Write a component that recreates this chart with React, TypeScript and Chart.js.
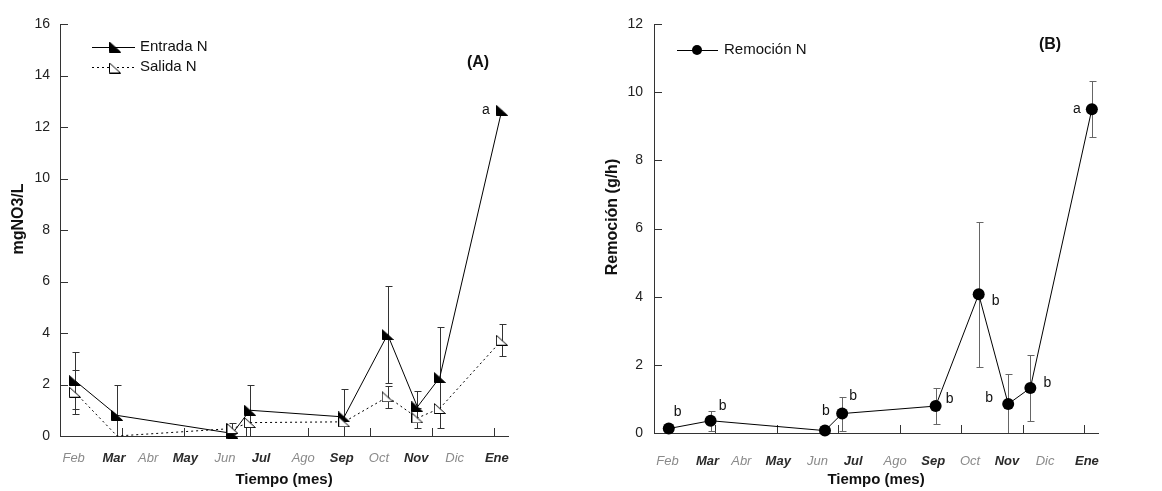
import React, { useEffect, useRef } from "react";
import { Chart, registerables } from "chart.js";
Chart.register(...registerables);

// ---------- data ----------
const MONTHS = ["Feb", "Mar", "Abr", "May", "Jun", "Jul", "Ago", "Sep", "Oct", "Nov", "Dic", "Ene"];
const MONTH_DAYS = [11, 43.5, 71, 101, 133, 162, 196, 227, 257, 287, 318, 352];
const MONTH_BOLD = [false, true, false, true, false, true, false, true, false, true, false, true];
const DAY_TICKS = [50, 100, 150, 200, 250, 300, 350];
const SAMPLE_DAYS = [12, 46, 139, 153, 229, 264, 288, 306, 356];

const ENTRADA = [2.15, 0.8, 0.1, 1.0, 0.74, 3.94, 1.13, 2.27, 12.65];
const ENTRADA_ERR = [1.1, 1.17, 0, 1.0, 1.1, 1.9, 0.6, 1.95, 0];
const ENTRADA_LETTERS = ["", "", "", "", "", "", "", "", "a"];
const SALIDA = [1.7, 0, 0.29, 0.52, 0.55, 1.52, 0.7, 1.07, 3.72];
const SALIDA_ERR = [0.85, 0, 0.2, 0, 0, 0.43, 0.4, 0, 0.62];
const SALIDA_MARKER_SHOWN = [true, false, true, true, true, true, true, true, true];

const REMOCION = [0.13, 0.36, 0.07, 0.57, 0.79, 4.07, 0.85, 1.32, 9.5];
const REMOCION_ERR = [0, 0.3, 0, 0.5, 0.52, 2.12, 0.88, 0.98, 0.83];
const REMOCION_LETTERS = ["b", "b", "b", "b", "b", "b", "b", "b", "a"];

const Y_TICKS_A = { min: 0, max: 16, step: 2 };
const Y_TICKS_B = { min: 0, max: 12, step: 2 };

// ---------- layout / style ----------
const FONT = '"Liberation Sans", Arial, Helvetica, sans-serif';
const AXIS = "#333";
const H = 491;
const LETTER_OFFSETS_A = [[0, 0], [0, 0], [0, 0], [0, 0], [0, 0], [0, 0], [0, 0], [0, 0], [-16, 0]];
const LETTER_OFFSETS_B = [[9, -16], [12, -15], [1, -19], [11, -17], [14, -7], [17, 7], [-19, -6], [17, -5], [-15, 0]];

function triMarker(filled: boolean) {
  const c = document.createElement("canvas");
  c.width = 12;
  c.height = 11;
  const g = c.getContext("2d")!;
  g.beginPath();
  g.moveTo(0.5, 0.5);
  g.lineTo(0.5, 10.5);
  g.lineTo(11.5, 10.5);
  g.closePath();
  g.fillStyle = filled ? "#000" : "#fff";
  g.fill();
  g.strokeStyle = "#000";
  g.lineWidth = 1;
  g.stroke();
  return c;
}

function xScale(height: number, labelPad: number, titlePad: number) {
  return {
    type: "linear",
    min: 0,
    max: 361,
    afterBuildTicks: (s: any) => {
      s.ticks = MONTH_DAYS.map((v) => ({ value: v }));
    },
    afterFit: (s: any) => {
      s.height = height;
    },
    grid: { display: true, drawOnChartArea: false, drawTicks: false },
    border: { display: true, color: AXIS, width: 1 },
    ticks: {
      autoSkip: false,
      maxRotation: 0,
      padding: labelPad,
      callback: (_v: any, i: number) => MONTHS[i],
      color: (ctx: any) => (MONTH_BOLD[ctx.index] ? "#2a2a2a" : "#8a8a8a"),
      font: (ctx: any) => ({
        family: FONT,
        size: 13,
        style: "italic",
        weight: MONTH_BOLD[ctx.index] ? "bold" : "normal",
      }),
    },
    title: {
      display: true,
      text: "Tiempo (mes)",
      color: "#111",
      font: { family: FONT, size: 15, weight: "bold" },
      padding: { top: 0, bottom: titlePad },
    },
  };
}

function yScale(range: { min: number; max: number; step: number }, width: number, pad: number) {
  return {
    type: "linear",
    min: range.min,
    max: range.max,
    afterFit: (s: any) => {
      s.width = width;
    },
    grid: { display: true, drawOnChartArea: false, drawTicks: false },
    border: { display: true, color: AXIS, width: 1 },
    ticks: { stepSize: range.step, padding: pad, color: "#222", font: { family: FONT, size: 14 } },
  };
}

type ErrSpec = { values: number[]; errs: number[]; color: string };

function decorPlugin(cfg: {
  errors: ErrSpec[];
  letters: { values: number[]; letters: string[]; offsets: number[][] }[];
  yTitle: { text: string; x: number; y: number };
  panel: { text: string; x: number; y: number };
  legend: (ctx: CanvasRenderingContext2D) => void;
}) {
  return {
    id: "decor",
    beforeDatasetsDraw(chart: any) {
      const { ctx, chartArea } = chart;
      const xs = chart.scales.x;
      const ys = chart.scales.y;
      ctx.save();
      ctx.strokeStyle = AXIS;
      ctx.lineWidth = 1;
      ctx.beginPath();
      for (const d of DAY_TICKS) {
        const px = Math.round(xs.getPixelForValue(d)) + 0.5;
        ctx.moveTo(px, chartArea.bottom);
        ctx.lineTo(px, chartArea.bottom - 8);
      }
      for (const t of ys.ticks) {
        const py = Math.round(ys.getPixelForValue(t.value)) + 0.5;
        ctx.moveTo(chartArea.left, py);
        ctx.lineTo(chartArea.left + 8, py);
      }
      ctx.stroke();
      ctx.beginPath();
      ctx.rect(chartArea.left, chartArea.top - 10, chartArea.width + 10, chartArea.height + 10);
      ctx.clip();
      for (const e of cfg.errors) {
        ctx.strokeStyle = e.color;
        ctx.beginPath();
        e.values.forEach((v, i) => {
          const err = e.errs[i];
          if (!err) return;
          const px = Math.round(xs.getPixelForValue(SAMPLE_DAYS[i])) + 0.5;
          const top = Math.round(ys.getPixelForValue(v + err)) + 0.5;
          const bot = Math.round(ys.getPixelForValue(v - err)) + 0.5;
          ctx.moveTo(px, top);
          ctx.lineTo(px, bot);
          ctx.moveTo(px - 3, top);
          ctx.lineTo(px + 4, top);
          ctx.moveTo(px - 3, bot);
          ctx.lineTo(px + 4, bot);
        });
        ctx.stroke();
      }
      ctx.restore();
    },
    afterDatasetsDraw(chart: any) {
      const { ctx } = chart;
      const xs = chart.scales.x;
      const ys = chart.scales.y;
      ctx.save();
      ctx.fillStyle = "#111";
      ctx.font = `14px ${FONT}`;
      ctx.textAlign = "center";
      ctx.textBaseline = "middle";
      for (const l of cfg.letters) {
        l.letters.forEach((t, i) => {
          if (!t) return;
          const px = xs.getPixelForValue(SAMPLE_DAYS[i]) + l.offsets[i][0];
          const py = ys.getPixelForValue(l.values[i]) + l.offsets[i][1];
          ctx.fillText(t, px, py);
        });
      }
      ctx.font = `bold 16px ${FONT}`;
      ctx.fillText(cfg.panel.text, cfg.panel.x, cfg.panel.y);
      ctx.save();
      ctx.translate(cfg.yTitle.x, cfg.yTitle.y);
      ctx.rotate(-Math.PI / 2);
      ctx.font = `bold 16px ${FONT}`;
      ctx.fillText(cfg.yTitle.text, 0, 0);
      ctx.restore();
      cfg.legend(ctx);
      ctx.restore();
    },
  };
}

function buildA(canvas: HTMLCanvasElement) {
  const filled = triMarker(true);
  const open = triMarker(false);
  const legend = (ctx: CanvasRenderingContext2D) => {
    ctx.strokeStyle = "#000";
    ctx.lineWidth = 1;
    ctx.beginPath();
    ctx.moveTo(92, 47.5);
    ctx.lineTo(135, 47.5);
    ctx.stroke();
    ctx.drawImage(filled, 115 - 6, 47 - 5.5);
    ctx.setLineDash([2, 3]);
    ctx.beginPath();
    ctx.moveTo(92, 67.5);
    ctx.lineTo(135, 67.5);
    ctx.stroke();
    ctx.setLineDash([]);
    ctx.drawImage(open, 115 - 6, 68 - 5.5);
    ctx.fillStyle = "#111";
    ctx.font = `15px ${FONT}`;
    ctx.textAlign = "left";
    ctx.textBaseline = "middle";
    ctx.fillText("Entrada N", 140, 47);
    ctx.fillText("Salida N", 140, 67);
  };
  return new Chart(canvas, {
    type: "line",
    data: {
      datasets: [
        {
          label: "Salida N",
          data: SAMPLE_DAYS.map((d, i) => ({ x: d, y: SALIDA[i] })),
          borderColor: "#000",
          borderWidth: 1,
          borderDash: [2, 3],
          pointStyle: open as any,
          pointRadius: (c: any) => (SALIDA_MARKER_SHOWN[c.dataIndex] ? 3 : 0),
          backgroundColor: "#fff",
          clip: false as any,
        },
        {
          label: "Entrada N",
          data: SAMPLE_DAYS.map((d, i) => ({ x: d, y: ENTRADA[i] })),
          borderColor: "#000",
          borderWidth: 1,
          pointStyle: filled as any,
          backgroundColor: "#000",
          clip: false as any,
        },
      ],
    },
    options: {
      responsive: false,
      animation: false,
      layout: { padding: { left: 0, top: 24, right: 72, bottom: 0 } },
      plugins: { legend: { display: false }, tooltip: { enabled: false } },
      scales: { x: xScale(H - 436, 15, 2) as any, y: yScale(Y_TICKS_A, 60, 10) as any },
    },
    plugins: [
      decorPlugin({
        errors: [
          { values: SALIDA, errs: SALIDA_ERR, color: "#333" },
          { values: ENTRADA, errs: ENTRADA_ERR, color: "#333" },
        ],
        letters: [{ values: ENTRADA, letters: ENTRADA_LETTERS, offsets: LETTER_OFFSETS_A }],
        yTitle: { text: "mgNO3/L", x: 19, y: 219 },
        panel: { text: "(A)", x: 478, y: 63 },
        legend,
      }) as any,
    ],
  } as any);
}

function buildB(canvas: HTMLCanvasElement) {
  const legend = (ctx: CanvasRenderingContext2D) => {
    ctx.strokeStyle = "#000";
    ctx.lineWidth = 1;
    ctx.beginPath();
    ctx.moveTo(97, 50.5);
    ctx.lineTo(138, 50.5);
    ctx.stroke();
    ctx.fillStyle = "#000";
    ctx.beginPath();
    ctx.arc(117, 50, 5, 0, Math.PI * 2);
    ctx.fill();
    ctx.fillStyle = "#111";
    ctx.font = `15px ${FONT}`;
    ctx.textAlign = "left";
    ctx.textBaseline = "middle";
    ctx.fillText("Remoción N", 144, 50);
  };
  return new Chart(canvas, {
    type: "line",
    data: {
      datasets: [
        {
          label: "Remoción N",
          data: SAMPLE_DAYS.map((d, i) => ({ x: d, y: REMOCION[i] })),
          borderColor: "#000",
          borderWidth: 1,
          pointStyle: "circle",
          pointRadius: 6,
          pointBackgroundColor: "#000",
          pointBorderColor: "#000",
          pointBorderWidth: 0,
          clip: false as any,
        },
      ],
    },
    options: {
      responsive: false,
      animation: false,
      layout: { padding: { left: 0, top: 24, right: 64, bottom: 0 } },
      plugins: { legend: { display: false }, tooltip: { enabled: false } },
      scales: { x: xScale(H - 433, 21, 2) as any, y: yScale(Y_TICKS_B, 74, 11) as any },
    },
    plugins: [
      decorPlugin({
        errors: [{ values: REMOCION, errs: REMOCION_ERR, color: "#666" }],
        letters: [{ values: REMOCION, letters: REMOCION_LETTERS, offsets: LETTER_OFFSETS_B }],
        yTitle: { text: "Remoción (g/h)", x: 33, y: 217 },
        panel: { text: "(B)", x: 470, y: 45 },
        legend,
      }) as any,
    ],
  } as any);
}

function Panel({ build, left, width }: { build: (c: HTMLCanvasElement) => Chart; left: number; width: number }) {
  const ref = useRef<HTMLCanvasElement>(null);
  useEffect(() => {
    const chart = build(ref.current!);
    return () => chart.destroy();
  }, []);
  return (
    <div style={{ position: "absolute", left, top: 0, width, height: H }}>
      <canvas ref={ref} width={width} height={H} style={{ display: "block" }} />
    </div>
  );
}

export default function App() {
  return (
    <div style={{ position: "absolute", left: 0, top: 0, width: 1162, height: H, background: "#fff" }}>
      <Panel build={buildA} left={0} width={580} />
      <Panel build={buildB} left={580} width={582} />
    </div>
  );
}
